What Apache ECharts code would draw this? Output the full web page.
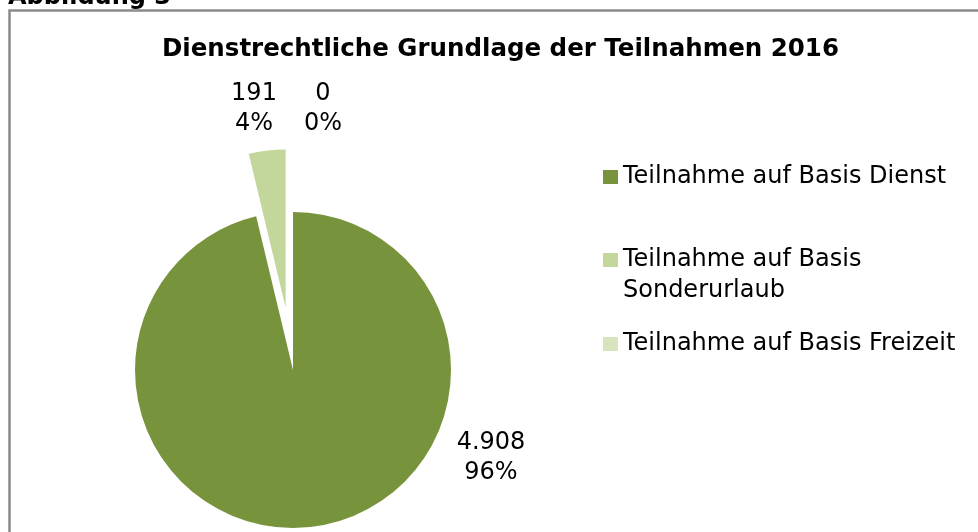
<!DOCTYPE html>
<html>
<head>
<meta charset="utf-8">
<script src="https://cdn.jsdelivr.net/npm/echarts@6/dist/echarts.min.js"></script>
<style>
  html, body { margin: 0; padding: 0; background: #fff; }
  #chart { width: 978px; height: 532px; }
</style>
</head>
<body>
<div id="chart"></div>
<script>
const categories = ['Teilnahme auf Basis Dienst', 'Teilnahme auf Basis Sonderurlaub', 'Teilnahme auf Basis Freizeit']
const values = [4908, 191, 0]
const colors = ['#77933C', '#C3D69B', '#D7E4BD']
const exploded = 1 // index of the slice pulled out of the pie
const font = '"DejaVu Sans", Verdana, sans-serif'

const pieCenter = [293, 370]
const pieRadius = 158
const explodeDist = 63
// label spots, relative to the pie centre
const labelSpots = [[198, 88], [-39, -261], [30, -261]]

const fmt = v => String(v).replace(/\B(?=(\d{3})+(?!\d))/g, '.')

// the exploded slice sits in its own series, shifted along its mid angle
const total = values.reduce((a, b) => a + b, 0)
const before = values.slice(0, exploded).reduce((a, b) => a + b, 0)
const midAngle = (before + values[exploded] / 2) / total * 2 * Math.PI
const explodedCenter = [
  pieCenter[0] + Math.sin(midAngle) * explodeDist,
  pieCenter[1] - Math.cos(midAngle) * explodeDist
]

const chart = echarts.init(document.getElementById('chart'))

const legendBase = {
  orient: 'vertical',
  left: 603,
  padding: 0,
  itemWidth: 15,
  itemHeight: 14,
  icon: 'rect',
  selectedMode: false,
  textStyle: { fontFamily: font, fontSize: 24, color: '#000', lineHeight: 31 }
}

const labelBase = {
  show: true,
  position: 'outside',
  fontFamily: font,
  fontSize: 24,
  lineHeight: 30,
  color: '#000',
  formatter: p => fmt(p.value) + '\n' + p.percent + '%'
}

const placeLabel = p => ({
  x: pieCenter[0] + labelSpots[p.dataIndex][0],
  y: pieCenter[1] + labelSpots[p.dataIndex][1],
  align: 'center',
  verticalAlign: 'middle'
})

const pieBase = {
  type: 'pie',
  radius: pieRadius,
  startAngle: 90,
  clockwise: true,
  stillShowZeroSum: true,
  avoidLabelOverlap: false,
  selectedMode: false,
  emphasis: { disabled: true },
  labelLine: { show: false },
  labelLayout: placeLabel,
  percentPrecision: 0
}

chart.setOption({
  animation: false,
  title: {
    text: 'Dienstrechtliche Grundlage der Teilnahmen 2016',
    left: 162,
    top: 37,
    padding: 0,
    textStyle: { fontFamily: font, fontSize: 24.5, fontWeight: 'bold', color: '#000' }
  },
  graphic: [
    {
      type: 'rect',
      shape: { x: 9.5, y: 10.5, width: 1000, height: 600 },
      style: { fill: 'none', stroke: '#8a8a8a', lineWidth: 2.5 },
      silent: true
    },
    {
      type: 'text',
      x: 8,
      y: -2,
      style: { text: 'Abbildung 3', font: 'bold 24px ' + font, fill: '#000', verticalAlign: 'middle' },
      silent: true
    }
  ],
  legend: [
    Object.assign({}, legendBase, {
      top: 177 - 15.5,
      data: [{ name: categories[0], itemStyle: { color: colors[0] } }]
    }),
    Object.assign({}, legendBase, {
      top: 260 - 46.5,
      data: [{ name: categories[1], itemStyle: { color: colors[1] } }],
      formatter: () => ' \nTeilnahme auf Basis\nSonderurlaub'
    }),
    Object.assign({}, legendBase, {
      top: 344 - 15.5,
      data: [{ name: categories[2], itemStyle: { color: colors[2] } }]
    })
  ],
  series: [
    Object.assign({}, pieBase, {
      center: pieCenter,
      data: categories.map((name, i) => ({
        name,
        value: values[i],
        itemStyle: { color: i === exploded ? 'rgba(0,0,0,0)' : colors[i] },
        label: Object.assign({}, labelBase, { show: i !== exploded })
      }))
    }),
    Object.assign({}, pieBase, {
      center: explodedCenter,
      silent: true,
      data: categories.map((name, i) => ({
        name,
        value: values[i],
        itemStyle: { color: i === exploded ? colors[i] : 'rgba(0,0,0,0)' },
        label: Object.assign({}, labelBase, { show: i === exploded })
      }))
    })
  ]
})
</script>
</body>
</html>
